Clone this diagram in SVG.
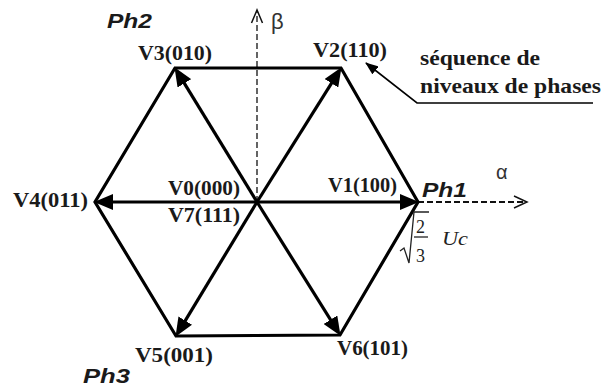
<svg xmlns="http://www.w3.org/2000/svg" width="603" height="387" viewBox="0 0 603 387">
<style>
.lbl{font-family:"Liberation Serif","Times New Roman",serif;font-weight:bold;font-size:21px;fill:#1a1a1a}
.ph{font-family:"Liberation Sans",Arial,sans-serif;font-weight:bold;font-style:italic;font-size:20px;fill:#1a1a1a}
.gr{font-family:"Liberation Sans",Arial,sans-serif;font-size:22px;fill:#333}
.it{font-family:"Liberation Serif","Times New Roman",serif;font-style:italic;font-size:19px;fill:#222}
.num{font-family:"Liberation Serif","Times New Roman",serif;font-size:18px;fill:#222}
.vec{stroke:#000;stroke-width:3.2;fill:none;marker-end:url(#ah)}
.axis{stroke:#111;stroke-width:1.3;fill:none;stroke-dasharray:6,3}
.open{stroke:#111;stroke-width:1.5;fill:none}
</style>
<defs>
<marker id="ah" markerUnits="userSpaceOnUse" markerWidth="20" markerHeight="16" refX="10" refY="8" orient="auto">
<path d="M0,0 L19,8 L0,16 z" fill="#000"/>
</marker>
<marker id="sh" markerUnits="userSpaceOnUse" markerWidth="14" markerHeight="10" refX="12" refY="5" orient="auto">
<path d="M0,0 L13,5 L0,10 z" fill="#000"/>
</marker>
</defs>
<g id="axes">
<line class="axis" x1="257" y1="202" x2="257" y2="11"/>
<polyline class="open" points="251.5,23 257,10 262.5,23"/>
<line class="axis" x1="418" y1="202" x2="526" y2="202" style="stroke-width:1.8"/>
<polyline class="open" points="514,196 527,202 514,208"/>
<text class="gr" x="271" y="29">β</text>
<text class="gr" x="496" y="179" style="font-size:20px">α</text>
</g>
<g id="hexagon">
<polygon points="418,202 341,68 175,68 95,202 176,336 340,335" fill="none" stroke="#000" stroke-width="3.2" stroke-linejoin="miter"/>
</g>
<g id="connectors">
<line class="vec" x1="257" y1="202" x2="410" y2="202"/>
<line class="vec" x1="257" y1="202" x2="336.75" y2="74.78"/>
<line class="vec" x1="257" y1="202" x2="179.18" y2="74.82"/>
<line class="vec" x1="257" y1="202" x2="103" y2="202"/>
<line class="vec" x1="257" y1="202" x2="180.14" y2="329.15"/>
<line class="vec" x1="257" y1="202" x2="335.77" y2="328.21"/>
<polyline points="593,103 417,103 366,63" fill="none" stroke="#000" stroke-width="1.6" marker-end="url(#sh)"/>
</g>
<g id="V0"><text class="lbl" x="168" y="195" textLength="72" lengthAdjust="spacingAndGlyphs">V0(000)</text></g>
<g id="V7"><text class="lbl" x="168" y="222" textLength="72" lengthAdjust="spacingAndGlyphs">V7(111)</text></g>
<g id="V1"><text class="lbl" x="328" y="192" textLength="69" lengthAdjust="spacingAndGlyphs">V1(100)</text></g>
<g id="V2"><text class="lbl" x="313" y="57" textLength="74" lengthAdjust="spacingAndGlyphs">V2(110)</text></g>
<g id="V3"><text class="lbl" x="138" y="60" textLength="74" lengthAdjust="spacingAndGlyphs">V3(010)</text></g>
<g id="V4"><text class="lbl" x="13" y="207" textLength="75" lengthAdjust="spacingAndGlyphs">V4(011)</text></g>
<g id="V5"><text class="lbl" x="135" y="362" textLength="78" lengthAdjust="spacingAndGlyphs">V5(001)</text></g>
<g id="V6"><text class="lbl" x="337" y="355" textLength="71" lengthAdjust="spacingAndGlyphs">V6(101)</text></g>
<g id="Ph1"><text class="ph" x="422" y="197" textLength="45" lengthAdjust="spacingAndGlyphs">Ph1</text></g>
<g id="Ph2"><text class="ph" x="107" y="28" textLength="45" lengthAdjust="spacingAndGlyphs">Ph2</text></g>
<g id="Ph3"><text class="ph" x="83" y="383" textLength="47" lengthAdjust="spacingAndGlyphs">Ph3</text></g>
<g id="note">
<text class="lbl" x="420" y="65" textLength="120" lengthAdjust="spacingAndGlyphs">séquence de</text>
<text class="lbl" x="420" y="93" textLength="181" lengthAdjust="spacingAndGlyphs">niveaux de phases</text>
</g>
<g id="magnitude">
<path d="M400,251 L404,248 L409,263 L414,212 L429,212" fill="none" stroke="#222" stroke-width="1.3"/>
<line x1="414" y1="237" x2="428" y2="237" stroke="#222" stroke-width="1.3"/>
<text class="num" x="416" y="233">2</text>
<text class="num" x="416" y="262">3</text>
<text class="it" x="442" y="245" textLength="26" lengthAdjust="spacingAndGlyphs">Uc</text>
</g>
</svg>
